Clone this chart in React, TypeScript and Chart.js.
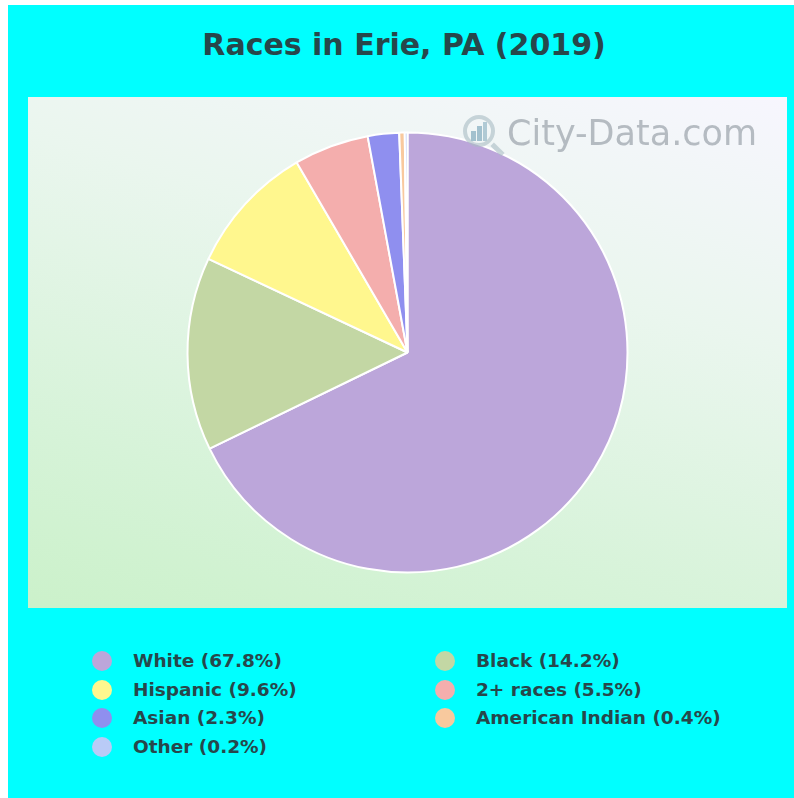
import React, { useEffect, useRef } from "react";
import { Chart, registerables } from "chart.js";

Chart.register(...registerables);

const TITLE = "Races in Erie, PA (2019)";
const categories = ["White", "Black", "Hispanic", "2+ races", "Asian", "American Indian", "Other"];
const values = [67.8, 14.2, 9.6, 5.5, 2.3, 0.4, 0.2];
const colors = ["#BCA6DA", "#C3D7A4", "#FFF78E", "#F4AEAD", "#8F8FEF", "#F8C99E", "#B9CBF7"];
// legend order as laid out in two columns (row-wise)
const legendOrder = [0, 1, 2, 3, 4, 5, 6];

const FONT = "'DejaVu Sans', 'Liberation Sans', Arial, sans-serif";
const TEXT_COLOR = "#27474b";

export default function App() {
  const canvasRef = useRef<HTMLCanvasElement | null>(null);

  useEffect(() => {
    document.documentElement.style.overflow = "hidden";
    document.body.style.overflow = "hidden";
    const canvas = canvasRef.current;
    if (!canvas) return;
    const chart = new Chart(canvas, {
      type: "pie",
      data: {
        labels: categories,
        datasets: [
          {
            data: values,
            backgroundColor: colors,
            borderColor: "#ffffff",
            borderWidth: 2,
          },
        ],
      },
      options: {
        responsive: false,
        maintainAspectRatio: false,
        animation: false,
        radius: 220,
        layout: { padding: 0 },
        plugins: {
          legend: { display: false },
          tooltip: { enabled: false },
          title: { display: false },
        },
      },
    });
    return () => chart.destroy();
  }, []);

  const rows: number[][] = [];
  for (let i = 0; i < legendOrder.length; i += 2) rows.push(legendOrder.slice(i, i + 2));

  return (
    <div
      style={{
        position: "fixed",
        left: 8,
        top: 5,
        width: 800,
        height: 800,
        background: "#00FFFF",
        fontFamily: FONT,
        overflow: "hidden",
      }}
    >
      <div
        style={{
          position: "absolute",
          left: 0,
          top: 22,
          width: 792,
          textAlign: "center",
          fontSize: 30,
          lineHeight: "36px",
          fontWeight: "bold",
          color: TEXT_COLOR,
        }}
      >
        {TITLE}
      </div>

      <div
        style={{
          position: "absolute",
          left: 20,
          top: 92,
          width: 759,
          height: 511,
          background: "linear-gradient(196deg, #F7F6FE 0%, #EAF6EE 35%, #D6F3D8 75%, #CBF1CA 100%)",
        }}
      >
        <canvas ref={canvasRef} width={759} height={511} style={{ display: "block" }} />
        <div
          style={{
            position: "absolute",
            left: 431,
            top: 12,
            width: 50,
            height: 50,
            opacity: 0.6,
            pointerEvents: "none",
          }}
        >
          <div
            style={{
              position: "absolute",
              left: 4,
              top: 6,
              width: 32,
              height: 32,
              borderRadius: "50%",
              border: "4px solid #a9bcc4",
              boxSizing: "border-box",
            }}
          />
          <div style={{ position: "absolute", left: 12, top: 22, width: 5, height: 10, background: "#6e9fb5" }} />
          <div style={{ position: "absolute", left: 18, top: 17, width: 5, height: 15, background: "#6e9fb5" }} />
          <div style={{ position: "absolute", left: 24, top: 13, width: 4, height: 19, background: "#86aebe" }} />
          <div
            style={{
              position: "absolute",
              left: 31,
              top: 38,
              width: 15,
              height: 5,
              background: "#a9bcc4",
              transform: "rotate(45deg)",
            }}
          />
        </div>
        <div
          style={{
            position: "absolute",
            left: 479,
            top: 16,
            fontSize: 35,
            lineHeight: "40px",
            color: "#aab1b8",
            opacity: 0.85,
            whiteSpace: "nowrap",
            pointerEvents: "none",
          }}
        >
          City-Data.com
        </div>
      </div>

      {rows.map((row, r) =>
        row.map((idx, c) => {
          const cx = c === 0 ? 94 : 437;
          const cy = 656 + r * 28.7;
          return (
            <React.Fragment key={idx}>
              <div
                style={{
                  position: "absolute",
                  left: cx - 10,
                  top: cy - 10,
                  width: 20,
                  height: 20,
                  borderRadius: "50%",
                  background: colors[idx],
                }}
              />
              <div
                style={{
                  position: "absolute",
                  left: cx + 31,
                  top: cy - 12,
                  fontSize: 18.5,
                  lineHeight: "24px",
                  fontWeight: "bold",
                  color: TEXT_COLOR,
                  whiteSpace: "nowrap",
                }}
              >
                {`${categories[idx]} (${values[idx]}%)`}
              </div>
            </React.Fragment>
          );
        })
      )}
    </div>
  );
}
